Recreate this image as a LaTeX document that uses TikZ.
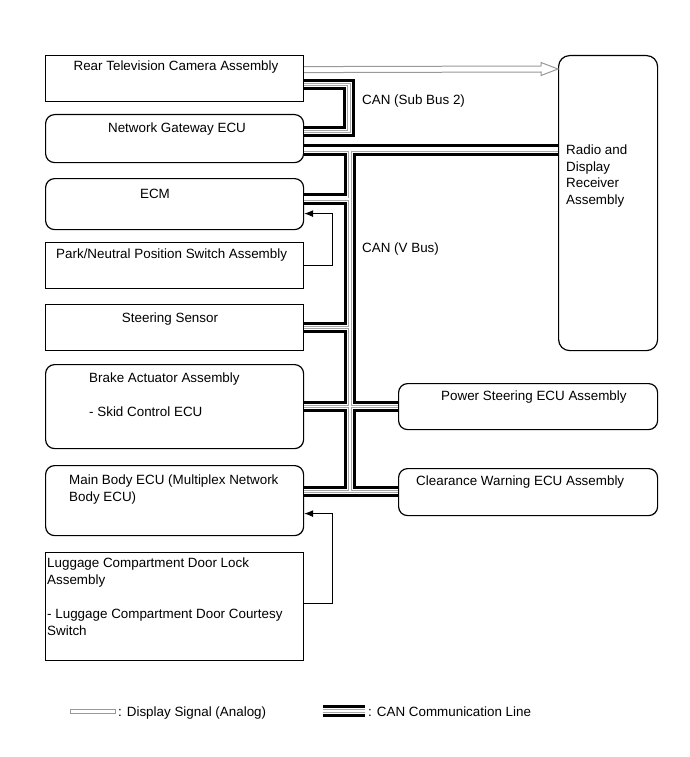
\documentclass[tikz,border=0pt]{standalone}
\usepackage{fontspec}
\setmainfont{Liberation Sans}
\usetikzlibrary{calc,arrows.meta}
\begin{document}
\begin{tikzpicture}[x=1pt,y=-1pt,
  font=\fontsize{13.4}{16}\selectfont,
  boxr/.style={draw, line width=1.2pt, rounded corners=9pt, inner sep=0pt, anchor=north west},
  boxs/.style={draw, line width=1.2pt, inner sep=0pt, anchor=north west},
  txt/.style={inner sep=0pt, anchor=base west},
  txc/.style={inner sep=0pt, anchor=base},
  canA/.style={line width=11.5pt, black, line join=miter},
  canB/.style={line width=5.5pt, white, line join=miter},
  canC/.style={line width=3.2pt, black!35, line join=miter},
  canD/.style={line width=1.4pt, white, line join=miter},
  dsig/.style={draw=black!40, line width=1pt, fill=white, line join=miter},
  sig/.style={line width=0.9pt, -{Latex[length=9pt,width=7pt]}}
]
\useasboundingbox (0,0) rectangle (690,757);

% boxes
\node[boxs, minimum width=258pt, minimum height=46pt] (rt) at (45,55) {};
\node[boxr, minimum width=258pt, minimum height=48pt] (gw) at (45,114) {};
\node[boxr, minimum width=258pt, minimum height=51pt] (ecm) at (45,178) {};
\node[boxs, minimum width=258pt, minimum height=46pt] (pn) at (45,242) {};
\node[boxs, minimum width=258pt, minimum height=46pt] (ss) at (45,304) {};
\node[boxr, minimum width=258pt, minimum height=84pt] (ba) at (45,364) {};
\node[boxr, minimum width=258pt, minimum height=70pt] (mb) at (45,465) {};
\node[boxs, minimum width=258pt, minimum height=108pt] (lg) at (45,552) {};
\node[boxr, rounded corners=11pt, minimum width=99pt, minimum height=295pt] (rd) at (558,55) {};
\node[boxr, minimum width=259pt, minimum height=46pt] (ps) at (398,383) {};
\node[boxr, minimum width=259pt, minimum height=47pt] (cw) at (398,468) {};

% texts
\node[txc] (rtT) at (176,71) {Rear Television Camera Assembly};
\node[txc] (gwT) at (177,132) {Network Gateway ECU};
\node[txc] (ecmT) at (155,198) {ECM};
\node[txt] (pnT) at (56,258) {Park/Neutral Position Switch Assembly};
\node[txc] (ssT) at (170,322) {Steering Sensor};
\node[txt] (baT1) at (89,382) {Brake Actuator Assembly};
\node[txt] (baT2) at (89,416) {- Skid Control ECU};
\node[txt] (mbT1) at (69,484) {Main Body ECU (Multiplex Network};
\node[txt] (mbT2) at (69,501) {Body ECU)};
\node[txt] (lgT1) at (47,567) {Luggage Compartment Door Lock};
\node[txt] (lgT2) at (47,584) {Assembly};
\node[txt] (lgT3) at (47,618) {- Luggage Compartment Door Courtesy};
\node[txt] (lgT4) at (47,635) {Switch};
\node[txt] (rdT1) at (566,154) {Radio and};
\node[txt] (rdT2) at (566,171) {Display};
\node[txt] (rdT3) at (566,187) {Receiver};
\node[txt] (rdT4) at (566,204) {Assembly};
\node[txt] (psT) at (441,400) {Power Steering ECU Assembly};
\node[txt] (cwT) at (416,485) {Clearance Warning ECU Assembly};
\node[txt] (sbL) at (362,105) {CAN (Sub Bus 2)};
\node[txt] (vbL) at (362,252) {CAN (V Bus)};

% connection points
\coordinate (sbA) at ($(rt.east)+(0,6)$);
\coordinate (sbB) at ($(gw.east)+(0,-7)$);
\coordinate (sbx) at (349,0);
\coordinate (gwC) at ($(gw.east)+(0,11.5)$);
\coordinate (tx) at (350,0);
\coordinate (ecmC) at ($(ecm.east)+(0,-5)$);
\coordinate (mbC) at ($(mb.east)+(0,-9)$);
\coordinate (lgA) at (323,711);
\coordinate (lgB) at (365,711);

% CAN lines (layered)
\foreach \st in {canA,canB,canC,canD}{
  \draw[\st] (sbA) -| (sbx |- sbB) -- (sbB);
  \draw[\st] (gwC) -- (rd.west |- gwC);
  \draw[\st] (tx |- gwC) -- (tx |- mbC);
  \draw[\st] (ecmC) -- (tx |- ecmC);
  \draw[\st] (ss.east) -- (tx |- ss.east);
  \draw[\st] (ba.east) -- (ps.west);
  \draw[\st] (mbC) -- (cw.west |- mbC);
  \draw[\st] (lgA) -- (lgB);
}

% display signal
\coordinate (dsT) at ($(rd.north west)+(0,14)$);
\draw[dsig] ($(rt.east)+(0,-12)$) -- ($(dsT)+(-17,-3)$) -- ($(dsT)+(-17,-6.5)$) -- (dsT)
  -- ($(dsT)+(-17,6.5)$) -- ($(dsT)+(-17,3)$) -- ($(rt.east)+(0,-6)$);

% hardwired signals
\draw[sig] (pn.east) -- ++(28,0) |- ($(ecm.east)+(0,9.5)$);
\draw[sig] ($(lg.east)+(0,-3)$) -- ++(28,0) |- ($(mb.east)+(0,13)$);

% legend
\draw[black!40, line width=1pt] (70,709) rectangle (115,713);
\node[txt] (lgd1) at (118,716) {: Display Signal (Analog)};
\node[txt] (lgd2) at (368,716) {: CAN Communication Line};
\end{tikzpicture}
\end{document}
